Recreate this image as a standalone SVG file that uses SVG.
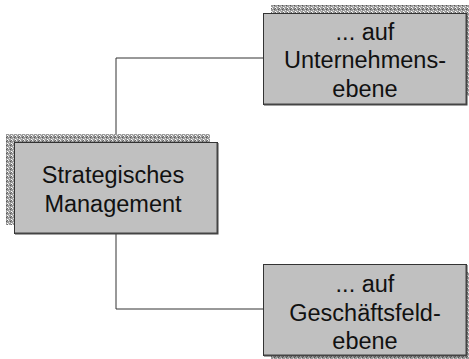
<svg xmlns="http://www.w3.org/2000/svg" width="469" height="359" viewBox="0 0 469 359">
<style>
.box{fill:#c0c0c0;stroke:#333;stroke-width:1}
.edge{fill:none;stroke:#444;stroke-width:2}
.shadow{fill:url(#hatch)}
.lbl{font-family:"Liberation Sans",Arial,sans-serif;font-size:23.5px;fill:#111;text-anchor:middle}
.conn{fill:none;stroke:#333;stroke-width:1}
</style>
<defs>
<pattern id="hatch" width="4" height="4" patternUnits="userSpaceOnUse">
<rect width="4" height="4" fill="#9a9a9a"/>
<rect x="0" y="0" width="1" height="1" fill="#eee"/>
<rect x="2" y="1" width="1" height="1" fill="#555"/>
<rect x="1" y="2" width="1" height="1" fill="#ddd"/>
<rect x="3" y="3" width="1" height="1" fill="#fff"/>
<rect x="3" y="0" width="1" height="1" fill="#666"/>
<rect x="0" y="3" width="1" height="1" fill="#bbb"/>
</pattern>
</defs>
<g id="connectors">
<path class="conn" d="M116 142 V58 H263"/>
<path class="conn" d="M116 233 V309 H263"/>
</g>
<g id="top">
<rect class="shadow" x="271" y="5" width="203" height="91"/>
<rect class="box" x="263.5" y="13.5" width="203" height="91"/>
<path class="edge" d="M466.5 14 V104.5 H264"/>
<text class="lbl" x="365" y="40">... auf</text>
<text class="lbl" x="365" y="68">Unternehmens-</text>
<text class="lbl" x="365" y="97">ebene</text>
</g>
<g id="middle">
<rect class="shadow" x="6" y="134" width="204" height="91"/>
<rect class="box" x="14.5" y="142.5" width="203" height="91"/>
<path class="edge" d="M217.5 143 V233.5 H15"/>
<text class="lbl" x="113" y="183">Strategisches</text>
<text class="lbl" x="113" y="212">Management</text>
</g>
<g id="bottom">
<rect class="shadow" x="271" y="272" width="203" height="91"/>
<rect class="box" x="263.5" y="264.5" width="203" height="91"/>
<path class="edge" d="M466.5 265 V355.5 H264"/>
<text class="lbl" x="365" y="292">... auf</text>
<text class="lbl" x="365" y="321">Geschäftsfeld-</text>
<text class="lbl" x="365" y="349">ebene</text>
</g>
</svg>
